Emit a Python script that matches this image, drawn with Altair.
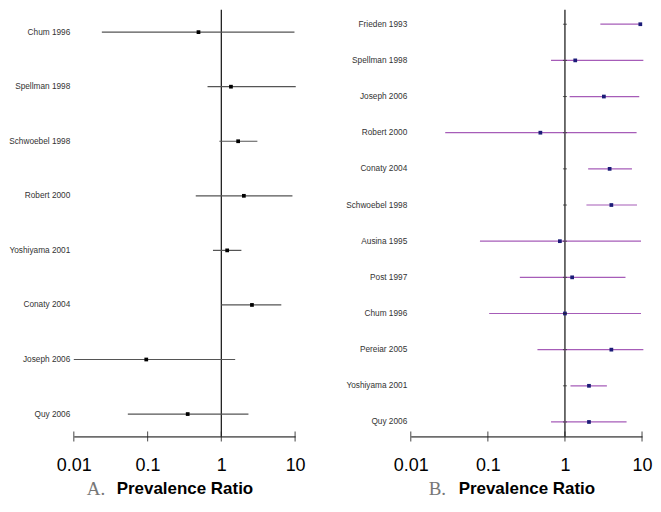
import altair as alt
import pandas as pd

# Panel A
a_studies = ["Chum 1996", "Spellman 1998", "Schwoebel 1998", "Robert 2000",
             "Yoshiyama 2001", "Conaty 2004", "Joseph 2006", "Quy 2006"]
a_est = [0.49, 1.35, 1.69, 2.02, 1.2, 2.6, 0.096, 0.35]
a_low = [0.024, 0.65, 0.94, 0.45, 0.77, 1.0, 0.01, 0.054]
a_high = [9.8, 10.2, 3.08, 9.2, 1.87, 6.5, 1.54, 2.33]

# Panel B
b_studies = ["Frieden 1993", "Spellman 1998", "Joseph 2006", "Robert 2000",
             "Conaty 2004", "Schwoebel 1998", "Ausina 1995", "Post 1997",
             "Chum 1996", "Pereiar 2005", "Yoshiyama 2001", "Quy 2006"]
b_est = [9.5, 1.36, 3.2, 0.48, 3.8, 4.0, 0.86, 1.24, 1.0, 4.0, 2.05, 2.05]
b_low = [2.88, 0.66, 1.15, 0.028, 2.0, 1.9, 0.079, 0.26, 0.104, 0.44, 1.18, 0.66]
b_high = [9.7, 10.4, 9.2, 8.5, 7.4, 8.6, 9.7, 6.1, 9.7, 10.4, 3.5, 6.3]

tick_values = [0.01, 0.1, 1, 10]
tick_labels = ["0.01", "0.1", "1", "10"]

H = 428
LABEL_FONT = "Liberation Sans"


def panel(studies, est, low, high, letter, width, line_color, point_color,
          row_ticks, label_pad, ypad):
    df = pd.DataFrame({"study": studies, "est": est, "low": low, "high": high})
    ticks_df = pd.DataFrame({"v": tick_values, "lab": tick_labels})
    xscale = alt.Scale(type="log", domain=[0.01, 10], nice=False)
    yscale = alt.Scale(type="point", padding=ypad)
    label_expr = "datum.value < 0.05 ? '0.01' : datum.value < 0.5 ? '0.1' : datum.value < 5 ? '1' : '10'"
    xaxis = alt.Axis(values=tick_values, labelExpr=label_expr,
                     grid=False, ticks=False, tickSize=0, domainColor="#000",
                     domainWidth=1, labelFont="Liberation Sans", labelFontSize=18,
                     labelColor="#000", labelPadding=20,
                     title="Prevalence Ratio", titleFont="Liberation Sans",
                     titleFontSize=17, titleFontWeight="bold", titleColor="#000",
                     titlePadding=6, labelFlush=False, labelOverlap=False)
    yaxis = alt.Axis(title=None, domain=False, ticks=False, tickSize=0,
                     labelFont=LABEL_FONT, labelFontSize=8.3, labelColor="#333",
                     labelPadding=label_pad, labelLimit=200)

    base = alt.Chart(df)
    ci = base.mark_rule(color=line_color, strokeWidth=1.2).encode(
        x=alt.X("low:Q", scale=xscale, axis=xaxis),
        x2="high:Q",
        y=alt.Y("study:N", sort=studies, scale=yscale, axis=yaxis),
    )
    pts = base.mark_square(color=point_color, size=14, opacity=1).encode(
        x=alt.X("est:Q"),
        y=alt.Y("study:N", sort=studies),
    )
    vline = alt.Chart(pd.DataFrame({"ref": [1]})).mark_rule(
        color="#222", strokeWidth=1.3).encode(
        x=alt.X("ref:Q"), y=alt.value(0), y2=alt.value(H))
    axticks = alt.Chart(ticks_df).mark_tick(
        color="#222", size=10, thickness=1.2, orient="vertical").encode(
        x=alt.X("v:Q"), y=alt.value(H))
    letter_txt = alt.Chart(pd.DataFrame({"t": [letter]})).mark_text(
        font="Liberation Serif", fontSize=19, color="#777", align="left",
        baseline="alphabetic").encode(
        text="t:N", x=alt.value(width / 2 - 98), y=alt.value(H + 59))
    layers = [vline, ci, pts, axticks, letter_txt]
    if row_ticks:
        rt = alt.Chart(pd.DataFrame({"study": studies, "ref": [1] * len(studies)})).mark_tick(
            color="#222", size=4, thickness=1, orient="horizontal").encode(
            x=alt.X("ref:Q"), y=alt.Y("study:N", sort=studies))
        layers.append(rt)
    return alt.layer(*layers).properties(width=width, height=H)


chart_a = panel(a_studies, a_est, a_low, a_high, "A.", 222, "#555", "#000", False, 4, 0.41)
chart_b = panel(b_studies, b_est, b_low, b_high, "B.", 232, "#a65cb8", "#1c1c78", True, 4, 0.4)

chart = alt.hconcat(chart_a, chart_b, spacing=39).resolve_scale(
    x="independent", y="independent").configure(
    padding=0, background="white").configure_view(stroke=None)

chart.save("out.html", embed_options={"renderer": "svg", "actions": False})
